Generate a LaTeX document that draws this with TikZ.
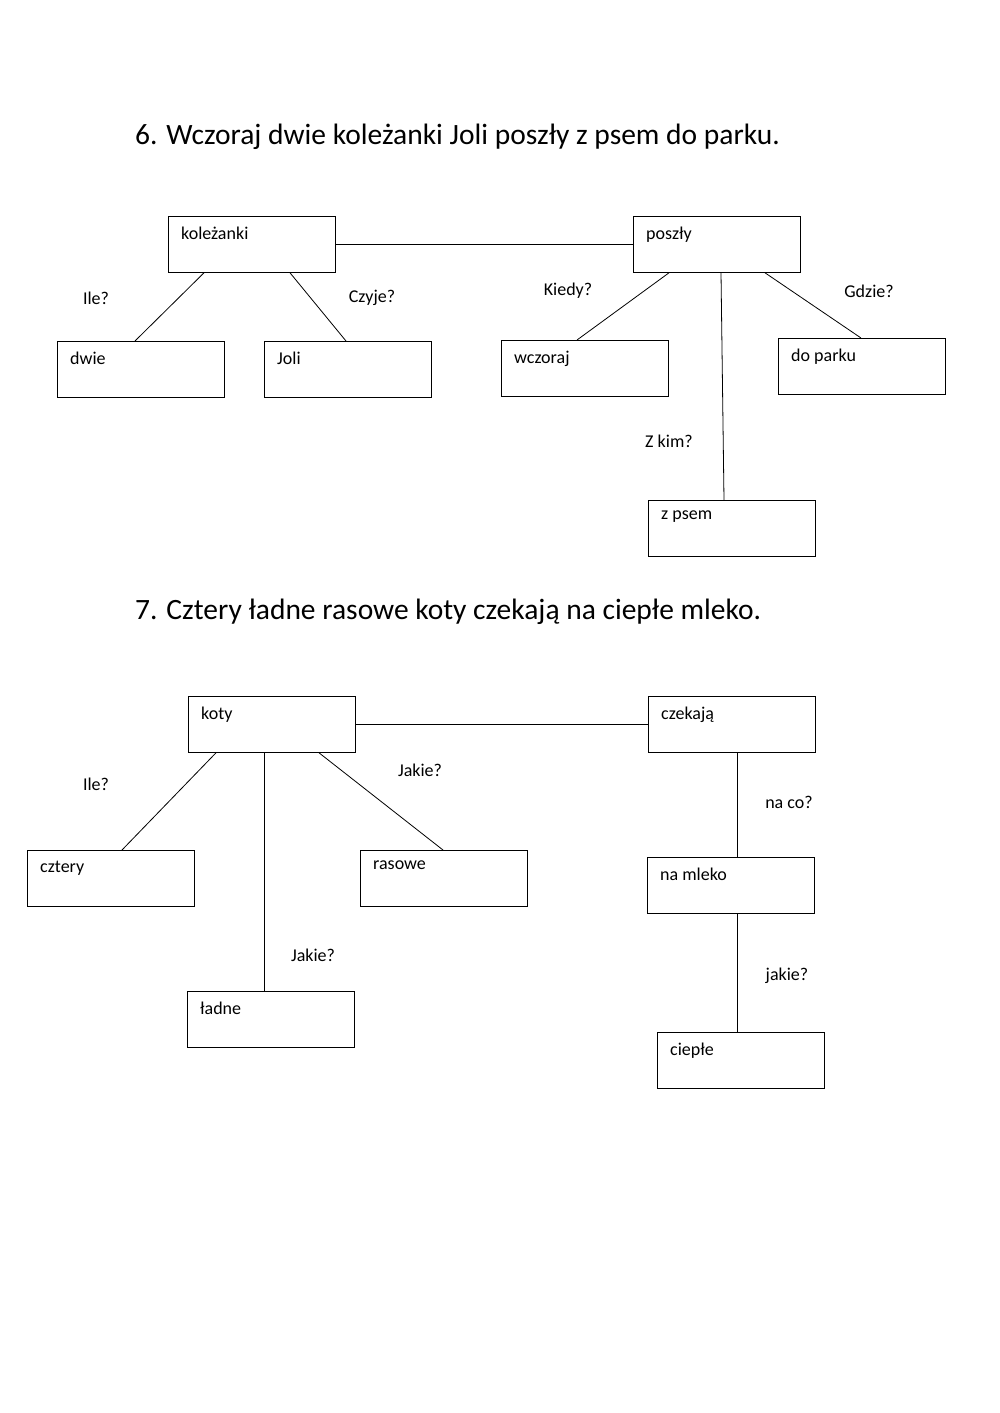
\documentclass[tikz,border=0pt]{standalone}
\usepackage{fontspec}
\setmainfont{Carlito}
\usetikzlibrary{calc}
\begin{document}
\begin{tikzpicture}[x=1pt,y=-1pt,
  box/.style={draw,line width=0.8pt,minimum width=167pt,minimum height=56pt,anchor=north west,inner sep=0,
    label={[anchor=north west,inner sep=0,xshift=13pt,yshift=-11pt,font=\fontsize{18}{20}\selectfont]north west:#1}},
  q/.style={font=\fontsize{18}{20}\selectfont},
  ln/.style={line width=0.8pt},
  title/.style={anchor=west,inner sep=0,font=\fontsize{29.5}{32}\selectfont}]
\useasboundingbox (0,0) rectangle (1000,1413);
\node[title] (t1) at (135,137) {6. Wczoraj dwie koleżanki Joli poszły z psem do parku.};
\node[title] (t2) at (135,612) {7. Cztery ładne rasowe koty czekają na ciepłe mleko.};

\node[box=koleżanki] (kol) at (168,216) {};
\node[box=poszły] (pos) at (633,216) {};
\node[box=dwie] (dwie) at (57,341) {};
\node[box=Joli] (joli) at (264,341) {};
\node[box=wczoraj] (wcz) at (501,340) {};
\node[box=do parku] (dop) at (778,338) {};
\node[box=z psem] (zps) at (648,500) {};

\draw[ln] (kol.east) -- (pos.west);
\draw[ln] ($(kol.south west)+(36,0)$) -- ($(dwie.north west)+(78,0)$);
\draw[ln] ($(kol.south west)+(122,0)$) -- ($(joli.north west)+(82,0)$);
\draw[ln] ($(pos.south west)+(36,0)$) -- ($(wcz.north west)+(76,0)$);
\draw[ln] ($(pos.south west)+(88,0)$) -- ($(zps.north west)+(76,0)$);
\draw[ln] ($(pos.south west)+(132,0)$) -- ($(dop.north west)+(83,0)$);

\node[q] (q1) at (96,298) {Ile?};
\node[q] (q2) at (372,298) {Czyje?};
\node[q] (q3) at (568,291) {Kiedy?};
\node[q] (q4) at (869,291) {Gdzie?};
\node[q] (q5) at (669,441) {Z kim?};

\node[box=koty] (koty) at (188,696) {};
\node[box=czekają] (cze) at (648,696) {};
\node[box=cztery] (czt) at (27,850) {};
\node[box=rasowe] (ras) at (360,850) {};
\node[box=ładne] (lad) at (187,991) {};
\node[box=na mleko] (mle) at (647,857) {};
\node[box=ciepłe] (cie) at (657,1032) {};

\draw[ln] (koty.east) -- (cze.west);
\draw[ln] ($(koty.south west)+(28,0)$) -- ($(czt.north west)+(95,0)$);
\draw[ln] ($(koty.south west)+(76,0)$) -- ($(lad.north west)+(77,0)$);
\draw[ln] ($(koty.south west)+(131,0)$) -- ($(ras.north west)+(83,0)$);
\draw[ln] ($(cze.south west)+(89,0)$) -- ($(mle.north west)+(90,0)$);
\draw[ln] ($(mle.south west)+(90,0)$) -- ($(cie.north west)+(80,0)$);

\node[q] (q6) at (96,784) {Ile?};
\node[q] (q7) at (420,770) {Jakie?};
\node[q] (q8) at (313,955) {Jakie?};
\node[q] (q9) at (789,802) {na co?};
\node[q] (q10) at (787,976) {jakie?};
\end{tikzpicture}
\end{document}
